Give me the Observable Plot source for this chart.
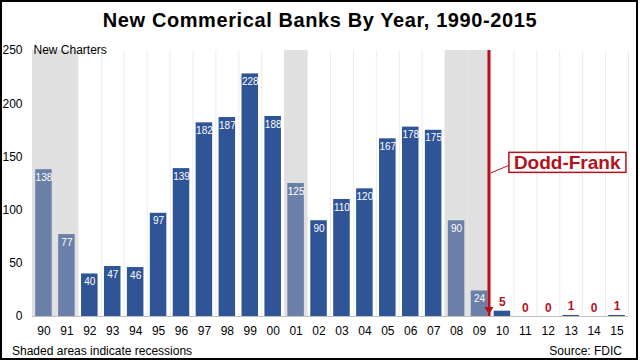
<!DOCTYPE html>
<html><head><meta charset="utf-8">
<script src="https://cdn.jsdelivr.net/npm/d3@7"></script>
<script src="https://cdn.jsdelivr.net/npm/@observablehq/plot@0.6"></script>
<style>
html,body{margin:0;padding:0;background:#fff;}
#wrap{position:relative;width:640px;height:360px;overflow:hidden;font-family:Arial,"Liberation Sans",sans-serif;background:#fff;color:#000;}
#title{height:40px;line-height:40px;text-align:center;font-weight:bold;font-size:20px;letter-spacing:0.6px;}
#chart svg{display:block;}
#foot{height:18px;line-height:18px;font-size:12px;display:flex;justify-content:space-between;padding:0 18px 0 12px;}
#border{position:absolute;left:0;top:0;width:638px;height:360px;box-sizing:border-box;border:2px solid #000;pointer-events:none;}
</style></head><body>
<div id="wrap">
  <div id="title">New Commerical Banks By Year, 1990-2015</div>
  <div id="chart"></div>
  <div id="foot"><span>Shaded areas indicate recessions</span><span>Source: FDIC</span></div>
  <div id="border"></div>
</div>
<script>
const years = ["90","91","92","93","94","95","96","97","98","99","00","01","02","03","04","05","06","07","08","09","10","11","12","13","14","15"];
const charters = [138,77,40,47,46,97,139,182,187,228,188,125,90,110,120,167,178,175,90,24,5,0,0,1,0,1];
const recessionYears = ["90","91","01","08","09"];
const yTicks = [0,50,100,150,200,250];
const yLabel = "New Charters";
const doddFrankYear = "09";
const annotation = {text: "Dodd-Frank", x: "13", y: 144};
const connector = {x1: "09", y1: 135, x2: "10", y2: 144};

const red = "#b3121c";
const blue = "#2f5597";
const blueLight = "#6b80a9";
const W = 640, H = 302, mL = 32, mR = 12, mT = 10, mB = 26;
const step = (W - mL - mR) / years.length;
const dfIndex = years.indexOf(doddFrankYear);
const data = years.map((y, i) => ({year: y, value: charters[i], recession: recessionYears.includes(y), post: i > dfIndex}));

const plot = Plot.plot({
  width: W, height: H,
  marginLeft: mL, marginRight: mR, marginTop: mT, marginBottom: mB,
  style: {fontFamily: "Arial, 'Liberation Sans', sans-serif", fontSize: "12px", color: "#000", background: "transparent"},
  x: {type: "band", domain: years, padding: 0, round: false, label: null, tickSize: 0, tickPadding: 10},
  y: {domain: [0, 250], ticks: yTicks, label: null, tickSize: 0, tickPadding: 10},
  marks: [
    Plot.ruleX(years, {x: d => d, dx: -step / 2, y1: 0, y2: 250, stroke: "#ececec"}),
    Plot.ruleX([years[years.length - 1]], {x: d => d, dx: step / 2, y1: 0, y2: 250, stroke: "#ececec"}),
    Plot.barY(recessionYears, {x: d => d, y: 250, fill: "#e0e0e0"}),
    Plot.barY(data.filter(d => !d.recession), {x: "year", y: "value", fill: blue, insetLeft: 3.2, insetRight: 3.2}),
    Plot.barY(data.filter(d => d.recession), {x: "year", y: "value", fill: blueLight, insetLeft: 3.2, insetRight: 3.2}),
    Plot.ruleY([0], {stroke: "#bfbfbf"}),
    Plot.text(data.filter(d => !d.post), {x: "year", y: "value", text: d => String(d.value), lineAnchor: "top", dy: 4, fill: "#fff", fontSize: 10}),
    Plot.text(data.filter(d => d.post), {x: "year", y: "value", text: d => String(d.value), lineAnchor: "bottom", dy: -5, fill: red, fontSize: 12, fontWeight: "bold"}),
    Plot.link([connector], {x1: "x1", y1: "y1", x2: "x2", y2: "y2", dx: step / 2, stroke: red, strokeWidth: 1}),
    Plot.ruleX([doddFrankYear], {x: d => d, dx: step / 2 - 2, y1: 0, y2: 250, stroke: red, strokeWidth: 3}),
    Plot.dot([doddFrankYear], {x: d => d, y: 0, dx: step / 2 - 2, dy: -7, symbol: "triangle", r: 3.3, fill: red, stroke: null, rotate: 180}),
    Plot.text([annotation], {x: "x", y: "y", text: "text", dx: -4, fill: red, fontSize: 19, fontWeight: "bold"}),
    Plot.text([yLabel], {frameAnchor: "top-left", text: d => d, textAnchor: "start", lineAnchor: "middle", dx: 1, fontSize: 12, fill: "#000"})
  ]
});
document.getElementById("chart").append(plot);

// white box with red border behind the annotation text
const t = [...plot.querySelectorAll("text")].find(e => e.textContent === annotation.text);
if (t) {
  const bb = t.getBBox();
  const r = document.createElementNS("http://www.w3.org/2000/svg", "rect");
  r.setAttribute("x", bb.x - 5);
  r.setAttribute("y", bb.y);
  r.setAttribute("width", bb.width + 10);
  r.setAttribute("height", bb.height - 1);
  r.setAttribute("fill", "#fff");
  r.setAttribute("stroke", red);
  r.setAttribute("stroke-width", 1.5);
  if (t.getAttribute("transform")) r.setAttribute("transform", t.getAttribute("transform"));
  t.parentNode.insertBefore(r, t);
}
</script>
</body></html>
